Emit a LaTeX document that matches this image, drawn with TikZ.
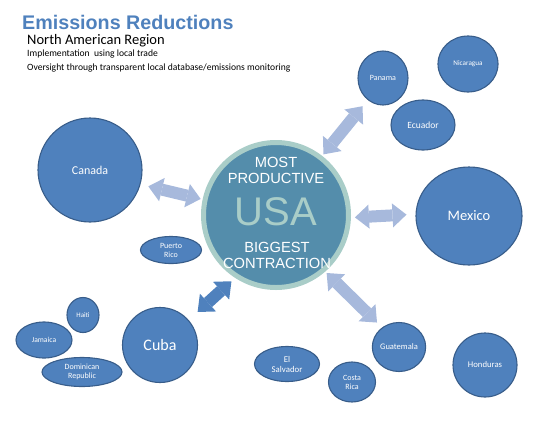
\documentclass[tikz,border=0pt]{standalone}
\usepackage{fontspec}
\setmainfont{Carlito}
\newfontfamily\arialfont{Liberation Sans}
\usetikzlibrary{shapes.geometric,arrows.meta}

\definecolor{officeblue}{HTML}{4F81BD}
\definecolor{blueline}{HTML}{385D8A}
\definecolor{usafill}{HTML}{548DAB}
\definecolor{usaring}{HTML}{A9CDC8}
\definecolor{arrowblue}{HTML}{A7B9DC}

\begin{document}

\begin{tikzpicture}[x=1pt,y=-1pt,
  country/.style={ellipse,fill=officeblue,draw=blueline,line width=1.1pt,inner sep=0pt,text=white,align=center,font=\fontsize{8}{9}\selectfont},
  usatext/.style={text=white,align=center,inner sep=0pt,font=\arialfont\fontsize{14.7}{16}\selectfont},
  headline/.style={anchor=base west,inner sep=0pt},
  twoway/.style={line width=12pt,arrowblue,{Triangle[length=14pt,width=24pt,line width=0pt]}-{Triangle[length=14pt,width=24pt,line width=0pt]}},
  darkway/.style={twoway,officeblue}]

\useasboundingbox (0,0) rectangle (551,421);

\node[headline,text=officeblue,font=\arialfont\bfseries\fontsize{19.7}{22}\selectfont] (title) at (22,29) {Emissions Reductions};

\node[headline,font=\fontsize{14.5}{16}\selectfont] (region) at (27,44.5) {North American Region};

\node[headline,font=\fontsize{9.6}{10}\selectfont] (trade) at (27,56) {Implementation\ \ using local trade};

\node[headline,font=\fontsize{9.6}{10}\selectfont] (oversight) at (27,70) {Oversight through transparent local database/emissions monitoring};

\node[circle,fill=usafill,draw=usaring,line width=5pt,minimum size=145pt,inner sep=0pt] (usa) at (276,215) {};

\node[usatext] (usa-top) at (276,170) {MOST\\PRODUCTIVE};

\node[text=usaring,inner sep=0pt,font=\arialfont\fontsize{40}{44}\selectfont] (usa-name) at (276,212) {USA};

\node[usatext] (usa-bottom) at (277,255) {BIGGEST\\CONTRACTION};

\node[country,minimum width=104pt,minimum height=104pt,font=\fontsize{12}{14}\selectfont] (canada) at (90,170) {Canada};

\node[country,minimum width=61pt,minimum height=27pt] (puerto) at (171,250) {Puerto\\Rico};

\node[country,minimum width=50pt,minimum height=54pt] (panama) at (383,78) {Panama};

\node[country,minimum width=60pt,minimum height=56pt,font=\fontsize{7.2}{8}\selectfont] (nicaragua) at (468,64) {Nicaragua};

\node[country,minimum width=64pt,minimum height=50pt,font=\fontsize{9.5}{10}\selectfont] (ecuador) at (423,125) {Ecuador};

\node[country,minimum width=106pt,minimum height=98pt,font=\fontsize{14.5}{16}\selectfont] (mexico) at (469,216) {Mexico};

\node[country,minimum width=75pt,minimum height=75pt,font=\fontsize{16}{18}\selectfont] (cuba) at (160,345) {Cuba};

\node[country,minimum width=32pt,minimum height=35pt,font=\fontsize{7}{8}\selectfont] (haiti) at (83,315) {Haiti};

\node[country,minimum width=56pt,minimum height=36pt,font=\fontsize{7.6}{8}\selectfont] (jamaica) at (44,340) {Jamaica};

\node[country,minimum width=80pt,minimum height=29pt] (domrep) at (82,372) {Dominican\\Republic};

\node[country,minimum width=65pt,minimum height=35pt,font=\fontsize{8.8}{10}\selectfont] (salvador) at (287,364) {El\\Salvador};

\node[country,minimum width=47pt,minimum height=40pt] (costarica) at (352,382) {Costa\\Rica};

\node[country,minimum width=48pt,minimum height=49pt,font=\fontsize{8.5}{9}\selectfont] (guatemala) at (399,347) {Guatemala};

\node[country,minimum width=64pt,minimum height=64pt,font=\fontsize{8.7}{9}\selectfont] (honduras) at (485,365) {Honduras};

\draw[twoway,shorten <=8pt,shorten >=2pt] (canada.-16) -- (usa.168);

\draw[twoway,shorten <=2pt,shorten >=8pt] (usa.52) -- (panama.235);

\draw[twoway,shorten <=4pt,shorten >=9pt] (usa.-2) -- (mexico.178);

\draw[twoway,shorten <=2pt,shorten >=7pt] (usa.-49) -- (guatemala.131);

\draw[darkway,shorten <=12pt,shorten >=5pt] (cuba.41) -- (usa.237);

\end{tikzpicture}

\end{document}
